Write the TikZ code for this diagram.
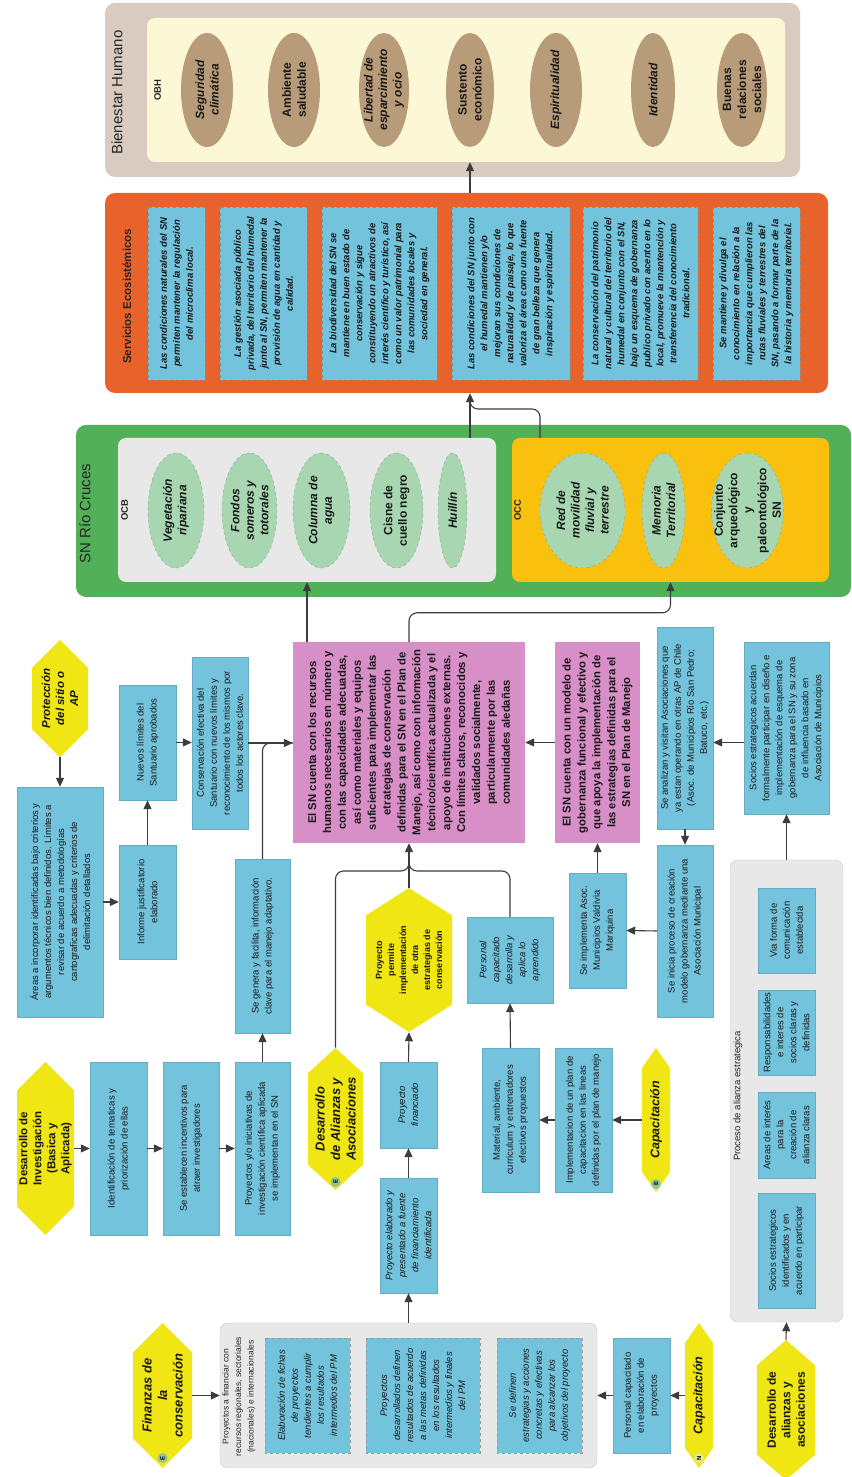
\documentclass[tikz,border=0pt]{standalone}
\usepackage{fontspec}
\setmainfont{Liberation Sans}
\usetikzlibrary{shapes.geometric,shapes.symbols,arrows.meta}
\definecolor{bluebox}{RGB}{116,195,221}
\definecolor{pinkbox}{RGB}{216,142,198}
\definecolor{yelhex}{RGB}{240,230,20}
\definecolor{bhout}{RGB}{217,203,192}
\definecolor{bhin}{RGB}{252,248,214}
\definecolor{brownell}{RGB}{184,155,120}
\definecolor{seorange}{RGB}{232,98,44}
\definecolor{sngreen}{RGB}{82,176,88}
\definecolor{ocbgray}{RGB}{232,232,232}
\definecolor{occamber}{RGB}{249,193,14}
\definecolor{greenell}{RGB}{168,214,176}
\definecolor{graybox}{RGB}{232,232,232}
\definecolor{grayline}{RGB}{200,200,200}
\definecolor{arrline}{RGB}{60,60,60}
\definecolor{ecol}{RGB}{140,198,150}
\definecolor{ncol}{RGB}{226,232,150}
\begin{document}
\begin{tikzpicture}[x=1pt, y=1pt, >={Triangle[length=9pt,width=8pt]}]
  \tikzstyle{STY1} = [rectangle, fill=bluebox, draw=bluebox!88!black, line width=0.4pt, align=center, inner sep=2pt, text=black!90, font=\fontsize{9.5}{13}\selectfont]
  \tikzstyle{STY2} = [->, draw=arrline, line width=1.1pt]
  \tikzstyle{STY3} = [STY1, draw=black!45, dashed, font=\fontsize{9.5}{13}\selectfont\bfseries\itshape]
  \tikzstyle{STY4} = [STY1, draw=black!40, dashed, font=\fontsize{9.5}{13}\selectfont\itshape]
  \tikzstyle{STY5} = [ellipse, fill=brownell, align=center, inner sep=-8pt, text=black!90, font=\fontsize{12}{15}\selectfont\bfseries]
  \tikzstyle{STY6} = [ellipse, fill=greenell, draw=greenell!80!black, dashed, align=center, inner sep=-8pt, text=black!90, font=\fontsize{12}{14.5}\selectfont\bfseries]
  \tikzstyle{STY7} = [signal, signal to=east and west, signal pointer angle=90, fill=yelhex, align=center, inner sep=1pt, text=black!90, font=\fontsize{13}{15.5}\selectfont\bfseries\itshape]
  \tikzstyle{STY8} = [rectangle, fill=pinkbox, align=center, inner sep=2pt, text=black!90, font=\fontsize{11.3}{14.9}\selectfont\bfseries]
  \tikzstyle{STY9} = [rectangle, rounded corners=10pt, inner sep=0pt]
  \tikzstyle{STY10} = [draw=arrline, line width=1.1pt, rounded corners=8pt]
  \tikzstyle{STY11} = [circle, inner sep=0pt, minimum size=10pt, font=\fontsize{6}{6}\selectfont\bfseries]
  \tikzstyle{STY12} = [inner sep=0pt, align=center, text=black!85]
  \tikzstyle{STY13} = [font=\fontsize{12}{14.5}\selectfont\bfseries\itshape]
  \tikzstyle{STY14} = [STY1, font=\fontsize{9.5}{13}\selectfont\itshape]

  \path[use as bounding box, fill=white] (0,0) rectangle (851,1477);

  \begin{scope}[rotate=90, transform shape]

  %%%%% BIENESTAR HUMANO
  \node[STY9, fill=bhout, minimum width=174pt, minimum height=695pt] (b0) at (1387,-452.5) {};
  \node[STY9, fill=bhin, rounded corners=8pt, minimum width=144pt, minimum height=638pt] (b1) at (1387,-466) {};
  \node[STY12, anchor=west, font=\fontsize{15}{18}\selectfont] (bt) at (1322,-117) {Bienestar Humano};
  \node[STY12, anchor=north, font=\fontsize{9.5}{12}\selectfont\bfseries] (bl) at (1387,-154) {OBH};

  \node[STY5, STY13, minimum width=114pt, minimum height=52pt] (b2) at (1387,-207) {Seguridad\\climática};
  \node[STY5, minimum width=114pt, minimum height=52pt] (b3) at (1387,-294) {Ambiente\\saludable};
  \node[STY5, STY13, minimum width=114pt, minimum height=50pt] (b4) at (1387,-384) {Libertad de\\esparcimiento\\y ocio};
  \node[STY5, minimum width=114pt, minimum height=48pt] (b5) at (1387,-470) {Sustento\\económico};
  \node[STY5, STY13, minimum width=114pt, minimum height=52pt] (b6) at (1387,-556) {Espiritualidad};
  \node[STY5, STY13, minimum width=114pt, minimum height=44pt] (b7) at (1387,-653) {Identidad};
  \node[STY5, minimum width=114pt, minimum height=50pt] (b8) at (1387,-742) {Buenas\\relaciones\\sociales};

  %%%%% SERVICIOS ECOSISTEMICOS
  \node[STY9, fill=seorange, minimum width=200pt, minimum height=723pt] (s0) at (1184,-466.5) {};
  \node[STY12, anchor=west, font=\fontsize{11.5}{14}\selectfont\bfseries] (st) at (1113,-127) {Servicios Ecosistémicos};

  \node[STY3, minimum width=173pt, minimum height=57pt] (s1) at (1183.5,-176.5) {Las condiciones naturales del SN\\permiten mantener la regulación\\del microclima local.};
  \node[STY3, minimum width=173pt, minimum height=87pt] (s2) at (1183.5,-263.5) {La gestión asociada público\\privada, del territorio del humedal\\junto al SN, permiten mantener la\\provisión de agua en cantidad y\\calidad.};
  \node[STY3, minimum width=173pt, minimum height=115pt] (s3) at (1183.5,-379.5) {La biodiversidad del SN se\\mantiene en buen estado de\\conservación y sigue\\constituyendo un atractivos de\\interés científico y turístico, así\\como un valor patrimonial para\\las comunidades locales y\\sociedad en general.};
  \node[STY3, minimum width=173pt, minimum height=118pt] (s4) at (1183.5,-511) {Las condiciones del SN junto con\\el humedal mantienen y/o\\mejoran sus condiciones de\\naturalidad y de paisaje, lo que\\valoriza el área como una fuente\\de gran belleza que genera\\inspiración y espiritualidad.};
  \node[STY3, minimum width=173pt, minimum height=115pt] (s5) at (1183.5,-640.5) {La conservación del patrimonio\\natural y cultural del territorio del\\humedal en conjunto con el SN,\\bajo un esquema de gobernanza\\publico privado con acento en lo\\local, promueve la mantención y\\transferencia del conocimiento\\tradicional.};
  \node[STY3, minimum width=173pt, minimum height=87pt] (s6) at (1183.5,-756.5) {Se mantiene y divulga el\\conocimiento en relación a la\\importancia que cumplieron las\\rutas fluviales y terrestres del\\SN, pasando a formar parte de la\\la historia y memoria territorial.};

  %%%%% SN RIO CRUCES
  \node[STY9, fill=sngreen, minimum width=172pt, minimum height=775pt] (c0) at (966,-463.5) {};
  \node[STY12, anchor=west, font=\fontsize{15}{18}\selectfont] (ct) at (913,-85) {SN Río Cruces};

  \node[STY9, fill=ocbgray, rounded corners=8pt, minimum width=144pt, minimum height=378pt] (c1) at (967,-307) {};
  \node[STY12, anchor=north, font=\fontsize{9.5}{12}\selectfont\bfseries] (cl1) at (967,-121) {OCB};
  \node[STY6, STY13, minimum width=115pt, minimum height=56pt] (c2) at (966.5,-176) {Vegetación\\ripariana};
  \node[STY6, STY13, minimum width=115pt, minimum height=55pt] (c3) at (966.5,-249.5) {Fondos\\someros y\\totorales};
  \node[STY6, STY13, minimum width=115pt, minimum height=57pt] (c4) at (966.5,-321.5) {Columna de\\agua};
  \node[STY6, minimum width=115pt, minimum height=53pt] (c5) at (966.5,-396.5) {Cisne de\\cuello negro};
  \node[STY6, STY13, minimum width=115pt, minimum height=29pt] (c6) at (966.5,-452.5) {Huillín};

  \node[STY9, fill=occamber, rounded corners=8pt, minimum width=144pt, minimum height=317pt] (c7) at (967,-670.5) {};
  \node[STY12, anchor=north, font=\fontsize{9.5}{12}\selectfont\bfseries] (cl2) at (967,-514) {OCC};
  \node[STY6, STY13, minimum width=115pt, minimum height=85pt] (c8) at (966.5,-582.5) {Red de\\movilidad\\fluvial y\\terrestre};
  \node[STY6, STY13, minimum width=115pt, minimum height=43pt] (c9) at (966.5,-663.5) {Memoria\\Territorial};
  \node[STY6, minimum width=115pt, minimum height=65pt] (c10) at (966.5,-747.5) {Conjunto\\arqueológico\\y\\paleontológico\\SN};

  %%%%% RESULTADOS
  \node[STY8, minimum width=201pt, minimum height=232pt] (p1) at (734.5,-409) {El SN cuenta con los recursos\\humanos necesarios en número y\\con las capacidades adecuadas,\\así como materiales y equipos\\suficientes para implementar las\\etrategias de conservación\\definidas para el SN en el Plan de\\Manejo, así como con información\\técnico/científica actualizada y el\\apoyo de instituciones externas.\\Con límites claros, reconocidos y\\validados socialmente,\\particularmente por las\\comunidades aledañas};
  \node[STY8, minimum width=201pt, minimum height=85pt] (p2) at (734.5,-597.5) {El SN cuenta con un modelo de\\gobernanza funcional y efectivo y\\que apoya la implementación de\\las estrategias definidas para el\\SN en el Plan de Manejo};

  %%%%% PROTECCION
  \node[STY7, font=\fontsize{11.5}{14}\selectfont\bfseries\itshape, minimum width=113pt, minimum height=56pt] (a1) at (778.5,-60) {Protección\\del sitio o\\AP};
  \node[STY1, minimum width=230pt, minimum height=86pt] (a2) at (575,-60) {Áreas a incorporar identificadas bajo criterios y\\argumentos técnicos bien definidos. Límites a\\revisar de acuerdo a metodologías\\cartograficas adecuadas y criterios de\\delimitación detallados};
  \node[STY1, minimum width=114pt, minimum height=57pt] (a3) at (575,-147.5) {Informe justificatorio\\elaborado};
  \node[STY1, minimum width=115pt, minimum height=57pt] (a4) at (734.5,-147.5) {Nuevos límites del\\Santuario aprobados};
  \node[STY1, minimum width=172pt, minimum height=56pt] (a5) at (734,-220) {Conservación efectiva del\\Santuario con nuevos límites y\\reconocimiento de los mismos por\\todos los actores clave.};

  %%%%% INVESTIGACION
  \node[STY7, font=\fontsize{11.5}{14}\selectfont\bfseries, minimum width=173pt, minimum height=57pt] (i1) at (328.5,-45.5) {Desarrollo de\\Investigación\\(Basica y\\Aplicada)};
  \node[STY1, minimum width=173pt, minimum height=57pt] (i2) at (328.5,-118.5) {Identificación de tematicas y\\priorización de ellas};
  \node[STY1, minimum width=173pt, minimum height=56pt] (i3) at (328.5,-191) {Se establecen incentivos para\\atraer investigadores};
  \node[STY1, minimum width=173pt, minimum height=55pt] (i4) at (328.5,-262.5) {Proyectos y/o iniciativas de\\investigación científica aplicada\\se implementan en el SN};
  \node[STY1, minimum width=174pt, minimum height=55pt] (i5) at (531,-262.5) {Se genera y facilita, información\\clave para el manejo adaptativo.};

  %%%%% FINANZAS
  \node[STY7, minimum width=145pt, minimum height=59pt] (f1) at (81.5,-162.5) {Finanzas de\\la\\conservación};
  \node[STY11, fill=ecol] (fe) at (19,-162.5) {E};
  \node[STY9, fill=graybox, draw=grayline, rounded corners=8pt, minimum width=145pt, minimum height=377pt] (f0) at (81.5,-408.5) {};
  \node[STY12, font=\fontsize{8.5}{12.5}\selectfont] (fh) at (80.5,-239) {Proyectos a financiar con\\recursos regionales, sectoriales\\(nacionales) e internacionales};
  \node[STY4, minimum width=115pt, minimum height=85pt] (f2) at (81.5,-307.5) {Elaboración de fichas\\de proyectos\\tendientes a cumplir\\los resultados\\intermedios del PM};
  \node[STY4, minimum width=115pt, minimum height=114pt] (f3) at (81.5,-423) {Proyectos\\desarrollados definen\\resultados de acuerdo\\a las metas definidas\\en los resultados\\intermedios y finales\\del PM};
  \node[STY4, minimum width=115pt, minimum height=85pt] (f4) at (81.5,-539.5) {Se definen\\estrategias y acciones\\concretas y efectivas\\para alcanzar los\\objetivos del proyecto};
  \node[STY14, minimum width=115pt, minimum height=57pt] (f5) at (241.5,-408.5) {Proyecto elaborado y\\presentado a fuente\\de financiamiento\\identificada};
  \node[STY14, minimum width=86pt, minimum height=57pt] (f6) at (372,-408.5) {Proyecto\\financiado};
  \node[STY7, signal pointer angle=115, font=\fontsize{9}{12}\selectfont\bfseries, minimum width=144pt, minimum height=86pt] (f7) at (517,-409) {Proyecto\\permite\\implementación\\de otra\\estrategias de\\conservación};
  \node[STY1, minimum width=115pt, minimum height=57pt] (f8) at (81.5,-641.5) {Personal capacitado\\en elaboración de\\proyectos};
  \node[STY7, signal pointer angle=70, font=\fontsize{12.5}{14}\selectfont\bfseries\itshape, minimum width=145pt, minimum height=28pt] (f9) at (81.5,-699) {Capacitación};
  \node[STY11, fill=ncol] (fn) at (19,-699) {N};

  %%%%% CAPACITACION
  \node[STY7, signal pointer angle=95, minimum width=142pt, minimum height=55pt] (k1) at (358,-335.5) {Desarrollo\\de Alianzas y\\Asociaciones};
  \node[STY11, fill=ecol] (ke1) at (295,-335.5) {E};
  \node[STY14, minimum width=86pt, minimum height=86pt] (k2) at (517,-510) {Personal\\capacitado\\desarrolla y\\aplica lo\\aprendido};
  \node[STY1, minimum width=144pt, minimum height=57pt] (k3) at (357,-510.5) {Material, ambiente,\\curriculum y entrenadores\\efectivos propuestos};
  \node[STY1, minimum width=144pt, minimum height=57pt] (k4) at (357,-583.5) {Implementacion de un plan de\\capacitacion en las lineas\\definidas por el plan de manejo};
  \node[STY7, signal pointer angle=70, font=\fontsize{12.5}{14}\selectfont\bfseries\itshape, minimum width=144pt, minimum height=28pt] (k5) at (357,-656) {Capacitación};
  \node[STY11, fill=ecol] (ke2) at (293,-656) {E};

  %%%%% GOBERNANZA
  \node[STY1, minimum width=115pt, minimum height=57pt] (g1) at (546.5,-597.5) {Se implementa Asoc.\\Municipios Valdivia\\Mariquina};
  \node[STY1, minimum width=172pt, minimum height=56pt] (g2) at (546,-685) {Se inicia proceso de creación\\modelo gobernanza mediante una\\Asociación Municipal};
  \node[STY1, minimum width=202pt, minimum height=56pt] (g3) at (749,-685) {Se analizan y visitan Asociaciones que\\ya estan operando en otras AP de Chile\\(Asoc. de Municipios Río San Pedro;\\Batuco, etc.)};
  \node[STY1, minimum width=172pt, minimum height=85pt] (g4) at (749,-786.5) {Socios estrategicos acuerdan\\formalmente participar en diseño e\\implementación de esquema de\\gobernanza para el SN y su zona\\de influencia basado en\\Asociación de Municipios};
  \node[STY9, fill=graybox, draw=grayline, rounded corners=8pt, minimum width=462pt, minimum height=113pt] (g0) at (386,-786.5) {};
  \node[STY12, font=\fontsize{9.5}{12}\selectfont] (gh) at (381,-738) {Proceso de alianza estrategica};
  \node[STY1, minimum width=115pt, minimum height=57pt] (g5) at (226.5,-786.5) {Socios estrategicos\\identificados y en\\acuerdo en participar};
  \node[STY1, minimum width=86pt, minimum height=57pt] (g6) at (342,-786.5) {Areas de interés\\para la\\creación de\\alianza claras};
  \node[STY1, minimum width=85pt, minimum height=57pt] (g7) at (444.5,-786.5) {Responsabilidades\\e interes de\\socios claras y\\definidas};
  \node[STY1, minimum width=85pt, minimum height=57pt] (g8) at (546.5,-786.5) {Via forma de\\comunicación\\establecida};
  \node[STY7, signal pointer angle=98, font=\fontsize{12}{14.5}\selectfont\bfseries, minimum width=140pt, minimum height=58pt] (g9) at (67,-786) {Desarrollo de\\alianzas y\\asociaciones};

  \coordinate (m1) at (606,-409);
  \coordinate (m2) at (622,-409);
  \coordinate (m3) at (1068,-540);
  \coordinate (m4) at (1080,-470);

  %%%%% EDGES
  \draw[STY2] (a1.west) -- (a2.east);
  \draw[STY2] (a2.south) -- (a3.north);
  \draw[STY2] (a3.east) -- (a4.west);
  \draw[STY2] (a4.south) -- (a4.south |- a5.north);
  \draw[STY10] (i5.east) -| (a5.south |- p1.north);
  \draw[STY2] (a5.south) -- (a5.south |- p1.north);

  \draw[STY2] (i1.south) -- (i2.north);
  \draw[STY2] (i2.south) -- (i3.north);
  \draw[STY2] (i3.south) -- (i4.north);
  \draw[STY2] (i4.east) -- (i5.west);

  \draw[STY2] (f1.south) -- (f0.north);
  \draw[STY2] (f0.east) -- (f5.west);
  \draw[STY2] (f5.east) -- (f6.west);
  \draw[STY2] (f6.east) -- (f7.west);
  \draw[STY2] (f7.east) -- (p1.west);
  \draw[STY2] (f9.north) -- (f8.south);
  \draw[STY2] (f8.north) -- (f0.south);

  \draw[STY10] (k1.east) -| (m1) -- (m2);
  \draw[STY10] (k2.east) -| (m1) -- (m2);
  \draw[STY2] (k3.east) -- (k2.west);
  \draw[STY2] (k4.north) -- (k3.south);
  \draw[STY2] (k5.north) -- (k4.south);

  \draw[STY2] (g9.east) -- (g0.west);
  \draw[STY2] (g0.east) -- (g4.west);
  \draw[STY2] (g4.north -| p1) -- (g3.south -| p1);
  \draw[STY2] (g3.west) -- (g2.east);
  \draw[STY2] (g2.north) -- (g1.south);
  \draw[STY2] (g1.east) -- (p2.west);
  \draw[STY2] (p2.north) -- (p1.south);

  \draw[STY2] (p1.east |- c1.west) -- (c1.west);
  \draw[STY2, rounded corners=8pt] (p1.east) -- ++(29,0) |- (c7.west);
  \draw[STY2] (c1.east |- b5) -- (s0.west |- b5);
  \draw[STY10] (c7.east |- m3) -- (m3) |- (m4);
  \draw[STY2] (s0.east |- b5) -- (b1.west |- b5);

  \end{scope}
\end{tikzpicture}
\end{document}
